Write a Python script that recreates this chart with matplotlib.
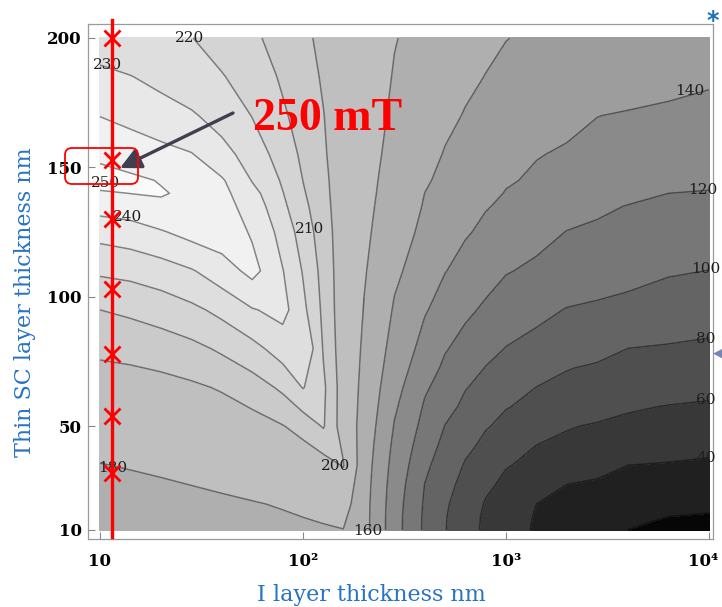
import numpy as np
import matplotlib
matplotlib.use("Agg")
import matplotlib.pyplot as plt
from matplotlib.patches import FancyBboxPatch
from matplotlib.ticker import NullLocator
from matplotlib.transforms import ScaledTranslation

plt.rcParams['font.family'] = ['Liberation Serif', 'DejaVu Serif']

# ---- data (field in mT) ----
# left part of the map (I layer 10 .. 200 nm)
i_left = [10, 14.1, 20, 28.2, 39.8, 56.2, 79.4, 100, 126, 158, 200]
sc_left = [10, 20, 35, 50, 65, 80, 95, 110, 125, 135, 140, 145, 155, 170, 185, 200]
field_left = [
    [167.0, 168.6, 170.2, 171.7, 173.3, 174.9, 176.5, 177.6, 178.6, 179.7, 166.2],
    [172.0, 173.5, 175.0, 176.5, 177.9, 179.3, 181.0, 182.5, 184.4, 187.1, 166.5],
    [179.6, 180.9, 182.3, 183.8, 185.5, 187.5, 190.2, 192.6, 195.7, 200.8, 168.3],
    [187.2, 188.3, 189.6, 191.2, 193.2, 195.8, 199.5, 203.9, 210.8, 194.4, 171.1],
    [194.6, 195.5, 196.7, 198.4, 201.0, 205.4, 212.0, 220.5, 211.8, 194.2, 174.0],
    [202.2, 203.2, 204.9, 207.5, 211.6, 217.0, 225.0, 229.6, 209.2, 193.6, 176.9],
    [210.0, 211.9, 214.6, 217.9, 222.8, 229.4, 233.0, 222.4, 207.7, 193.1, 179.3],
    [221.6, 222.9, 225.4, 229.2, 235.7, 243.0, 230.4, 219.3, 206.3, 193.5, 181.3],
    [233.5, 235.5, 239.2, 243.4, 245.4, 238.9, 226.1, 215.3, 204.7, 193.7, 183.1],
    [243.9, 245.3, 248.0, 249.4, 243.6, 235.4, 222.0, 212.4, 203.4, 193.6, 184.1],
    [248.9, 250.1, 250.8, 247.5, 242.5, 233.0, 220.4, 211.0, 202.8, 193.5, 184.6],
    [253.7, 251.8, 249.4, 245.3, 241.0, 229.5, 218.7, 209.9, 202.3, 193.6, 185.0],
    [248.0, 245.5, 243.0, 240.5, 233.4, 225.1, 215.2, 208.0, 201.3, 193.2, 185.8],
    [239.8, 237.1, 234.0, 231.1, 225.9, 219.7, 211.4, 205.8, 200.3, 193.2, 186.7],
    [232.3, 230.3, 227.2, 224.0, 220.6, 215.1, 208.6, 203.8, 198.9, 193.0, 187.4],
    [224.8, 223.3, 221.7, 220.2, 216.0, 211.6, 206.0, 202.0, 197.6, 192.6, 187.9],
]
# right part of the map (I layer 200 .. 10^4 nm)
i_right = [200, 282, 398, 501, 631, 794, 1000, 1413, 1995, 2818, 3981, 6310, 10000]
sc_right = [10, 15, 20, 27.5, 35, 42.5, 50, 57.5, 65, 72.5, 80, 95, 110, 125,
            135, 140, 145, 155, 170, 185, 200]
field_right = [
    [166.2, 127.0, 96.3, 80.7, 67.5, 56.3, 47.7, 37.6, 31.7, 25.7, 19.9, 17.0, 14.0],
    [166.3, 127.2, 96.6, 81.1, 68.1, 56.9, 48.6, 38.5, 33.8, 29.1, 24.3, 19.7, 18.6],
    [166.5, 128.0, 97.5, 82.4, 69.8, 58.6, 51.2, 40.0, 37.0, 34.1, 31.1, 27.2, 23.2],
    [167.3, 129.8, 99.7, 85.8, 73.8, 63.2, 56.1, 47.8, 39.9, 37.8, 35.8, 33.0, 30.3],
    [168.3, 132.5, 103.7, 90.2, 78.4, 69.7, 61.0, 55.3, 50.2, 45.1, 40.0, 38.6, 37.3],
    [169.6, 135.5, 108.3, 94.9, 84.0, 75.7, 69.0, 59.7, 57.0, 54.2, 51.5, 47.8, 44.2],
    [171.1, 138.9, 113.2, 99.5, 90.4, 81.2, 75.7, 68.3, 60.9, 58.3, 56.4, 53.8, 51.2],
    [172.6, 142.4, 117.7, 105.6, 95.9, 88.3, 80.7, 75.6, 71.0, 66.4, 61.7, 59.1, 57.9],
    [174.0, 145.8, 122.5, 111.3, 100.8, 94.3, 88.2, 79.7, 77.0, 74.3, 71.5, 67.9, 64.3],
    [175.5, 149.3, 128.2, 116.5, 107.6, 99.3, 94.6, 87.6, 80.5, 78.1, 76.1, 73.3, 70.6],
    [176.9, 152.5, 133.1, 121.3, 113.4, 105.9, 99.3, 94.4, 89.5, 84.6, 79.9, 78.4, 76.8],
    [179.3, 158.1, 141.5, 132.3, 123.5, 117.0, 112.0, 104.6, 99.1, 96.8, 94.5, 91.5, 88.4],
    [181.3, 163.4, 149.3, 140.5, 133.9, 127.4, 120.9, 116.8, 113.3, 109.8, 106.3, 101.6, 99.7],
    [183.1, 168.2, 155.4, 148.5, 141.5, 136.5, 132.0, 125.2, 119.5, 117.4, 115.2, 112.4, 109.5],
    [184.1, 170.8, 158.6, 152.7, 146.8, 140.9, 137.3, 132.4, 127.6, 122.7, 119.4, 117.7, 115.9],
    [184.6, 172.0, 159.9, 154.6, 149.2, 143.8, 139.3, 135.7, 132.0, 128.4, 124.8, 120.0, 119.4],
    [185.0, 173.0, 161.7, 156.2, 151.2, 146.3, 141.4, 137.7, 134.9, 132.1, 129.3, 125.6, 121.9],
    [185.8, 175.0, 165.0, 159.0, 155.0, 150.9, 146.8, 140.7, 138.0, 135.7, 133.4, 130.3, 127.2],
    [186.7, 177.3, 169.0, 163.5, 159.0, 156.1, 153.2, 148.9, 144.6, 140.2, 138.6, 136.7, 134.8],
    [187.4, 179.1, 172.3, 167.8, 163.3, 159.6, 158.0, 155.7, 153.4, 151.1, 148.8, 145.7, 142.6],
    [187.9, 180.6, 174.9, 171.3, 167.6, 163.9, 160.2, 158.4, 156.7, 155.1, 153.4, 151.2, 149.0],
]
line_levels = [20, 40, 60, 80, 100, 120, 140, 160, 180, 200, 210, 220, 230, 240, 250]
fill_levels = [0] + line_levels + [300]
band_colors = ['#060606', '#202020', '#383838', '#4f4f4f', '#646464', '#777777',
               '#8a8a8a', '#9d9d9d', '#afafaf', '#bfbfbf', '#cacaca', '#d4d4d4',
               '#dedede', '#e8e8e8', '#f1f1f1', '#fafafa']

# contour labels (value, I thickness, SC thickness)
label_values = [220, 230, 250, 240, 210, 200, 180, 160, 140, 120, 100, 80, 60, 40]
label_x = [27.7, 10.95, 10.6, 13.7, 108, 144, 11.5, 209, 8050, 9330, 9660, 9660, 9660, 9660]
label_y = [200.0, 189.6, 144.0, 130.9, 126.3, 34.7, 34.0, 9.6, 179.6, 141.3, 110.8, 83.8, 60.2, 37.8]

# measured samples (red line)
sample_i = 11.46
sample_sc = [200, 153, 130, 103, 78, 54, 32]

x_ticks = [10, 100, 1000, 10000]
x_tick_labels = ['10', '10²', '10³', '10⁴']
y_ticks = [10, 50, 100, 150, 200]
y_tick_labels = ['10', '50', '100', '150', '200']

# ---- figure ----
fig = plt.figure(figsize=(7.22, 6.07), dpi=100)
ax = fig.add_axes([88/722, 1-539/607, 625/722, 515/607])
ax.set_xscale('log')

for xs, ys, zs in [(i_left, sc_left, field_left), (i_right, sc_right, field_right)]:
    X, Y = np.meshgrid(xs, ys)
    Z = np.array(zs)
    cf = ax.contourf(X, Y, Z, levels=fill_levels, colors=band_colors)
    cf.set_edgecolor('face')
    cf.set_linewidth(0.6)
    ax.contour(X, Y, Z, levels=line_levels, colors='k', alpha=0.45, linewidths=1.1)

for v, lx, ly in zip(label_values, label_x, label_y):
    ax.text(lx, ly, str(v), fontsize=11, color='#1e1e1e', ha='center', va='center',
            family='DejaVu Serif', clip_on=False, zorder=4)

ax.set_xlim(10**0.9409, 10**4.0197)
ax.set_ylim(6.52, 205.4)
ax.xaxis.set_minor_locator(NullLocator())
ax.set_xticks(x_ticks, x_tick_labels, fontweight='bold', va='baseline', family='DejaVu Serif')
ax.set_yticks(y_ticks, y_tick_labels, fontweight='bold', family='DejaVu Serif')
ax.tick_params(axis='x', direction='in', length=5, width=0.8, color='#888888',
               labelsize=12, pad=19.5)
ax.tick_params(axis='y', direction='in', length=5, width=0.8, color='#888888',
               labelsize=12, pad=4.5)
last = ax.get_xticklabels()[-1]
last.set_transform(last.get_transform() + ScaledTranslation(-4/72, 0, fig.dpi_scale_trans))
for s in ax.spines.values():
    s.set_color('#9a9a9a')
    s.set_linewidth(0.9)

ax.set_xlabel('I layer thickness nm', color='#2873c3', fontsize=16, family='DejaVu Serif')
ax.xaxis.set_label_coords(0.454, -0.087)
ax.set_ylabel('Thin SC layer thickness nm', color='#2873c3', fontsize=16, family='DejaVu Serif')
ax.yaxis.set_label_coords(-0.083, 0.46)

# red sample line with markers
ax.axvline(sample_i, ymin=0.004, ymax=1.008, color='red', lw=2.4, clip_on=False, zorder=5)
ax.plot([sample_i]*len(sample_sc), sample_sc, 'x', color='red', ms=12, mew=2,
        clip_on=False, zorder=6)

# highlight box and arrow
box = FancyBboxPatch((0.65, 4.23), 0.73, 0.36, boxstyle='round,pad=0,rounding_size=0.07',
                     transform=fig.dpi_scale_trans, fill=False, ec='red', lw=1.3, zorder=7)
fig.add_artist(box)
ax.annotate('', xy=(120, 439), xytext=(233, 494), xycoords='figure pixels',
            textcoords='figure pixels',
            arrowprops=dict(arrowstyle='-|>,head_length=0.9,head_width=0.45',
                            color='#3f3f4f', lw=2.4, mutation_scale=14,
                            shrinkA=0, shrinkB=0), zorder=8)
fig.text(253/722, 1-130/607, '250 mT', color='red', fontsize=33, fontweight='bold',
         ha='left', va='baseline')
fig.text(713/722, 1-21/607, '*', color='#1f6fc0', fontsize=17, fontweight='bold',
         ha='center', va='center', family='DejaVu Sans')
fig.text(718/722, 1-353/607, '◀', color='#7585b5', fontsize=9,
         ha='center', va='center', family='DejaVu Sans')

fig.savefig('out.png', dpi=100)
